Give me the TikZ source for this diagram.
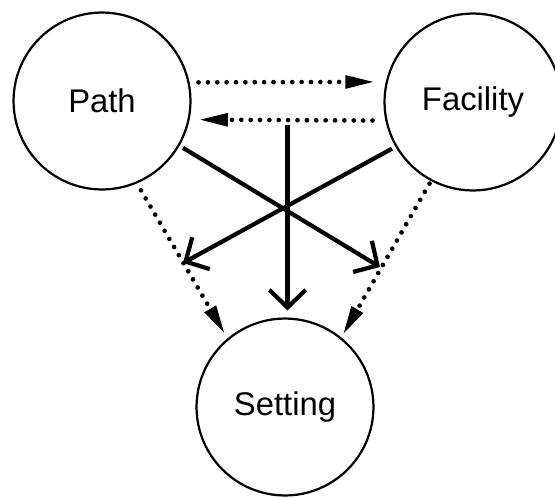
\documentclass[tikz,border=0pt]{standalone}
\usepackage{fontspec}
\setmainfont{Liberation Sans}
\usepackage{tikz}
\usetikzlibrary{arrows.meta,calc}

\begin{document}
\begin{tikzpicture}[x=0.03cm,y=-0.03cm,
  factor/.style={circle,draw=black,line width=1.9pt,minimum size=151pt,
    inner sep=0pt,font=\fontsize{28}{32}\selectfont},
  dotarr/.style={-{Triangle[length=25pt,width=10.5pt]},line width=4pt,
    dash pattern=on 0pt off 8pt,line cap=round},
  solarr/.style={-{Straight Barb[length=15pt,width=31pt]},line width=3.6pt}
]
\useasboundingbox (0,0) rectangle (555,497);

\node[factor] (P) at (102,101) {Path};
\node[factor] (F) at (473,102) {Facility};
\node[factor] (S) at (285,407) {Setting};

% free ends of the crossing arrows
\coordinate (tipR) at (380,267);
\coordinate (tipL) at (183,263);

% dotted links between the circles
\draw[dotarr,shorten <=7.6pt,shorten >=9.4pt] (P.12.3) -- (F.167.7);
\draw[dotarr,shorten <=11pt,shorten >=7.6pt] (F.192.3) -- (P.-12.3);
\draw[dotarr,shorten <=6.8pt,shorten >=4.2pt] (P.-67) -- (S.130);
\draw[dotarr,shorten <=2.5pt,shorten >=2.5pt] (F.-118) -- (S.51.6);

% solid arrows
\coordinate (M) at ($(F.192.3)!0.5!(P.-12.3)$);
\draw[solarr,shorten <=4.2pt,shorten >=6pt] (M) -- (M |- S.north);
\draw[solarr,shorten <=3.4pt] (P.-30.4) -- (tipR);
\draw[solarr,shorten <=3.4pt] (F.-150.4) -- (tipL);
\end{tikzpicture}
\end{document}
